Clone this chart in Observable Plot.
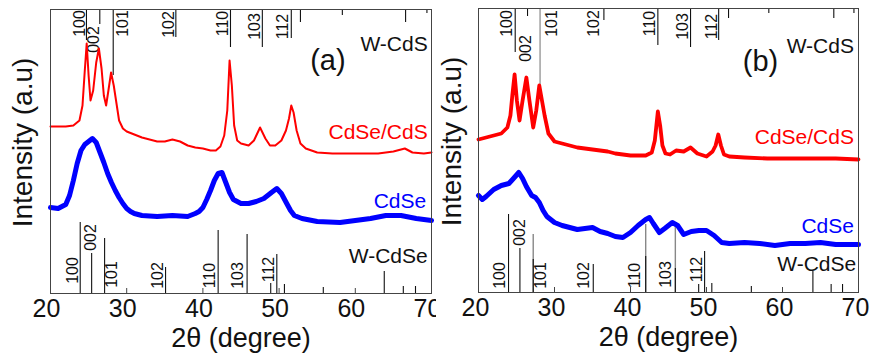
<!DOCTYPE html>
<html><head><meta charset="utf-8">
<script src="https://cdn.jsdelivr.net/npm/d3@7"></script>
<script src="https://cdn.jsdelivr.net/npm/@observablehq/plot@0.6"></script>
<style>
body{margin:0;background:#fff;}
#wrap{display:flex;width:873px;height:353px;overflow:hidden;}
svg{display:block;flex:none}
</style></head><body><div id="wrap"></div>
<script>
// ---------- data ----------
const xTicks = [20, 30, 40, 50, 60, 70];
const hkl = ["100", "002", "101", "102", "110", "103", "112"];

// Panel (a): CdSe/CdS (red) and CdSe (blue), intensity in arbitrary units
const redA_x = [20,21,22,23,23.8,24.2,24.5,24.75,25.0,25.25,25.6,26.0,26.35,26.7,27.0,27.3,27.6,27.95,28.3,28.7,29.0,29.5,30,31,32,33,34,35,36,37,38,39,40,41,41.7,42.3,42.8,43.2,43.5,43.8,44.1,44.5,45,46,46.7,47.5,48.2,48.8,49.5,50.3,50.9,51.3,51.6,51.9,52.3,52.8,53.5,55,57,59,61,63,65,66.5,67.5,69,70];
const redA_y = [167,167,167,168,173,188,223,250,218,193,203,231,245,225,198,188,203,221,208,188,173,165,162,159,156,154,152,152,154,152,148,146,145,143,143,147,158,183,233,208,168,153,150,148,153,166,155,148,148,153,163,175,188,181,163,150,145,141,140,140,140,140,142,145,141,140,141];
const blueA_x = [20,21,22,22.5,23,23.5,24,24.5,25,25.5,26,26.5,27,27.5,28,28.5,29,29.5,30,30.5,31,32,34,36,38,39,39.5,40,40.5,41,41.5,42,42.5,43,43.5,44,45,46,47,48,49,49.7,50.3,51,51.5,52,53,55,58,60,62,64,66,68,70];
const blueA_y = [86,85,89,98,113,130,143,149,152,155,151,141,131,120,111,103,96,90,85,82,80,78,77,78,77,80,82,86,94,103,113,120,121,111,101,94,90,90,92,95,101,105,100,90,83,78,75,72,71,73,75,78,78,75,73];

// Panel (b)
const redB_x = [20,21,22,23,23.8,24.2,24.45,24.75,25.05,25.4,25.8,26.3,26.7,27.2,27.6,28.0,28.35,28.7,29.2,30,31,32,33,34,35,36,37,38,39,40,41,42,42.8,43.2,43.6,43.9,44.2,44.6,45.2,46,47,47.9,48.8,50,50.8,51.2,51.55,51.9,52.3,53,55,58,61,64,67,70];
const redB_y = [153,155,157,159,165,177,197,218,192,172,192,215,192,165,182,207,192,177,159,151,149,147,145,144,143,142,141,139,138,137,137,137,140,152,181,167,147,139,138,142,141,145,139,136,141,147,158,147,138,136,135,134,134,134,134,133];
const blueB_x = [20,20.5,21,22,23,24,24.6,25.3,25.8,26.3,27,27.5,28,28.5,29,30,31,32,33,34,35,36,37,38,39,40,41,42,42.5,43,43.8,44.5,45.5,46.2,47,48,49,50,51,52,53,55,57,59,61,63,65,67,70];
const blueB_y = [97,93,96,103,107,109,114,120,114,106,97,95,90,82,76,70,67,65,63,64,65,61,59,56,55,60,67,73,75,69,60,64,70,67,58,61,62,62,57,50,49,50,49,47,49,49,50,48,48];

// Reference patterns: hexagonal CdS (hanging from top) and CdSe (rising from bottom)
const cdsA_pos = [24.72,26.47,28.23,36.45,43.62,47.8,51.6,52.8,58.3,66.6,69.4];
const cdsA_int = [31,15,66,28,38,38,29,13,6,13,4];
const cdseA_pos = [23.9,25.4,27.1,35.1,42.0,45.8,48.9,49.7,50.7,55.8,63.8,66.3,67.9];
const cdseA_int = [71,40,55,26,63,59,10,39,9,6,22,7,7];

const cdsB_pos = [24.83,26.45,36.5,43.6,47.9,51.6,52.9,58.2,66.75,69.4];
const cdsB_int = [44,8,12,37,39,32,10,5,10,5];
const cdsB_pos2 = [28.1];
const cdsB_int2 = [77];
const cdseB_pos = [23.95,25.45,27.2,35.1,42.0,45.9,48.97,49.75,50.7,55.9,64.0,66.4,67.9];
const cdseB_int = [78,44,33,28,36,24,8,41,9,6,21,8,8];
const cdseB_pos2 = [27.2,42.0,45.9];
const cdseB_int2 = [58,68,68];

// hkl label anchors (degree, intensity)
const hklTopA_x = [23.8,25.64,29.45,35.6,42.6,46.8,50.5];
const hklTopA_y = [270,254,270,269,270,267,267];
const hklBotA_x = [22.95,25.25,28.1,34.1,40.9,44.6,48.7];
const hklBotA_y = [23,56,19,18,18,18,24];
const hklTopB_x = [23.78,26.28,29.7,35.2,42.6,46.95,50.77];
const hklTopB_y = [269,244,269,269,269,266,266];
const hklBotB_x = [22.86,25.5,28.26,33.9,40.57,44.65,48.67];
const hklBotB_y = [17,60,17,17,17,18,23];

// series names and panel letters
const names = ["W-CdS", "CdSe/CdS", "CdSe", "W-CdSe"];
const namesA_x = [69.5, 69.5, 69.3, 69.5];
const namesA_y = [243, 155, 86, 31];
const namesB_x = [69.4, 69.4, 69.4, 69.7];
const namesB_y = [240, 149, 60, 22];
const letters = ["(a)", "(b)"];
const letter_x = [56.4, 57.1];
const letter_y = [224, 222];

// ---------- drawing ----------
const FONT = "'Liberation Sans', Arial, sans-serif";
const zip = (xs, ys) => xs.map((x, i) => ({x, y: ys[i]}));

function panel(o) {
  const top = 284;
  return Plot.plot({
    width: o.w, height: 353,
    marginLeft: o.ml, marginRight: o.mr, marginTop: o.mt, marginBottom: o.mb,
    style: {fontFamily: FONT, background: "#fff", overflow: "visible"},
    x: {domain: [20, 70], axis: null},
    y: {domain: [0, top], axis: null},
    marks: [
      // reference lines
      o.cds2 ? Plot.ruleX(o.cds2, {x: "x", y1: top, y2: d => top - d.y, stroke: "#888", strokeWidth: 1.2}) : null,
      Plot.ruleX(o.cds, {x: "x", y1: top, y2: d => top - d.y, stroke: "#111", strokeWidth: 1.1}),
      o.cdse2 ? Plot.ruleX(o.cdse2, {x: "x", y1: 0, y2: "y", stroke: "#888", strokeWidth: 1.4}) : null,
      Plot.ruleX(o.cdse, {x: "x", y1: 0, y2: "y", stroke: "#111", strokeWidth: 1.1}),
      // hkl labels
      Plot.text(o.hklTop, {x: "x", y: "y", text: "t", rotate: -90, fontSize: 16, fill: "#111"}),
      Plot.text(o.hklBot, {x: "x", y: "y", text: "t", rotate: -90, fontSize: 16, fill: "#111"}),
      // patterns
      Plot.line(o.blue, {x: "x", y: "y", stroke: "#0000ff", strokeWidth: o.blueW, strokeLinejoin: "round"}),
      Plot.line(o.red, {x: "x", y: "y", stroke: "#ff0000", strokeWidth: o.redW, strokeLinejoin: "round"}),
      // series names
      Plot.text(o.names, {x: "x", y: "y", text: "t", textAnchor: "end", lineAnchor: "bottom", fontSize: 21,
        fill: (d, i) => ["#111", "#ff0000", "#0000ff", "#111"][i]}),
      Plot.text([o.letter], {x: "x", y: "y", text: "t", lineAnchor: "bottom", fontSize: 29, fill: "#111"}),
      // frame + inner ticks
      Plot.frame({stroke: "#444", strokeWidth: 1}),
      Plot.ruleX(xTicks, {x: d => d, y1: 0, y2: 5, stroke: "#444"}),
      // tick labels
      Plot.text(xTicks, {x: d => d, frameAnchor: "bottom", text: d => String(d), lineAnchor: "bottom",
        dy: 23, dx: o.tickDx, fontSize: 25, fill: "#111"}),
      // axis titles
      Plot.text(["2θ (degree)"], {frameAnchor: "bottom", text: d => d, lineAnchor: "bottom", dy: 53, fontSize: 27, fill: "#111"}),
      Plot.text(["Intensity (a.u)"], {frameAnchor: "left", text: d => d, textAnchor: "middle", rotate: -90, dx: o.ylabDx, dy: -9, fontSize: 28, fill: "#111"})
    ]
  });
}

const mk = (xs, ys, ts) => xs.map((x, i) => ({x, y: ys[i], t: ts[i]}));

const a = panel({
  w: 436, ml: 50, mr: 5, mt: 9, mb: 60,
  red: zip(redA_x, redA_y), blue: zip(blueA_x, blueA_y), redW: 2, blueW: 5,
  cds: zip(cdsA_pos, cdsA_int), cdse: zip(cdseA_pos, cdseA_int),
  hklTop: mk(hklTopA_x, hklTopA_y, hkl), hklBot: mk(hklBotA_x, hklBotA_y, hkl),
  names: mk(namesA_x, namesA_y, names),
  letter: {x: letter_x[0], y: letter_y[0], t: letters[0]},
  tickDx: -4, ylabDx: -27
});
const b = panel({
  w: 437, ml: 42, mr: 15, mt: 8, mb: 61,
  red: zip(redB_x, redB_y), blue: zip(blueB_x, blueB_y), redW: 3.8, blueW: 5,
  cds: zip(cdsB_pos, cdsB_int), cds2: zip(cdsB_pos2, cdsB_int2),
  cdse: zip(cdseB_pos, cdseB_int), cdse2: zip(cdseB_pos2, cdseB_int2),
  hklTop: mk(hklTopB_x, hklTopB_y, hkl), hklBot: mk(hklBotB_x, hklBotB_y, hkl),
  names: mk(namesB_x, namesB_y, names),
  letter: {x: letter_x[1], y: letter_y[1], t: letters[1]},
  tickDx: -3, ylabDx: -26
});
document.getElementById("wrap").append(a, b);
</script>
</body></html>
